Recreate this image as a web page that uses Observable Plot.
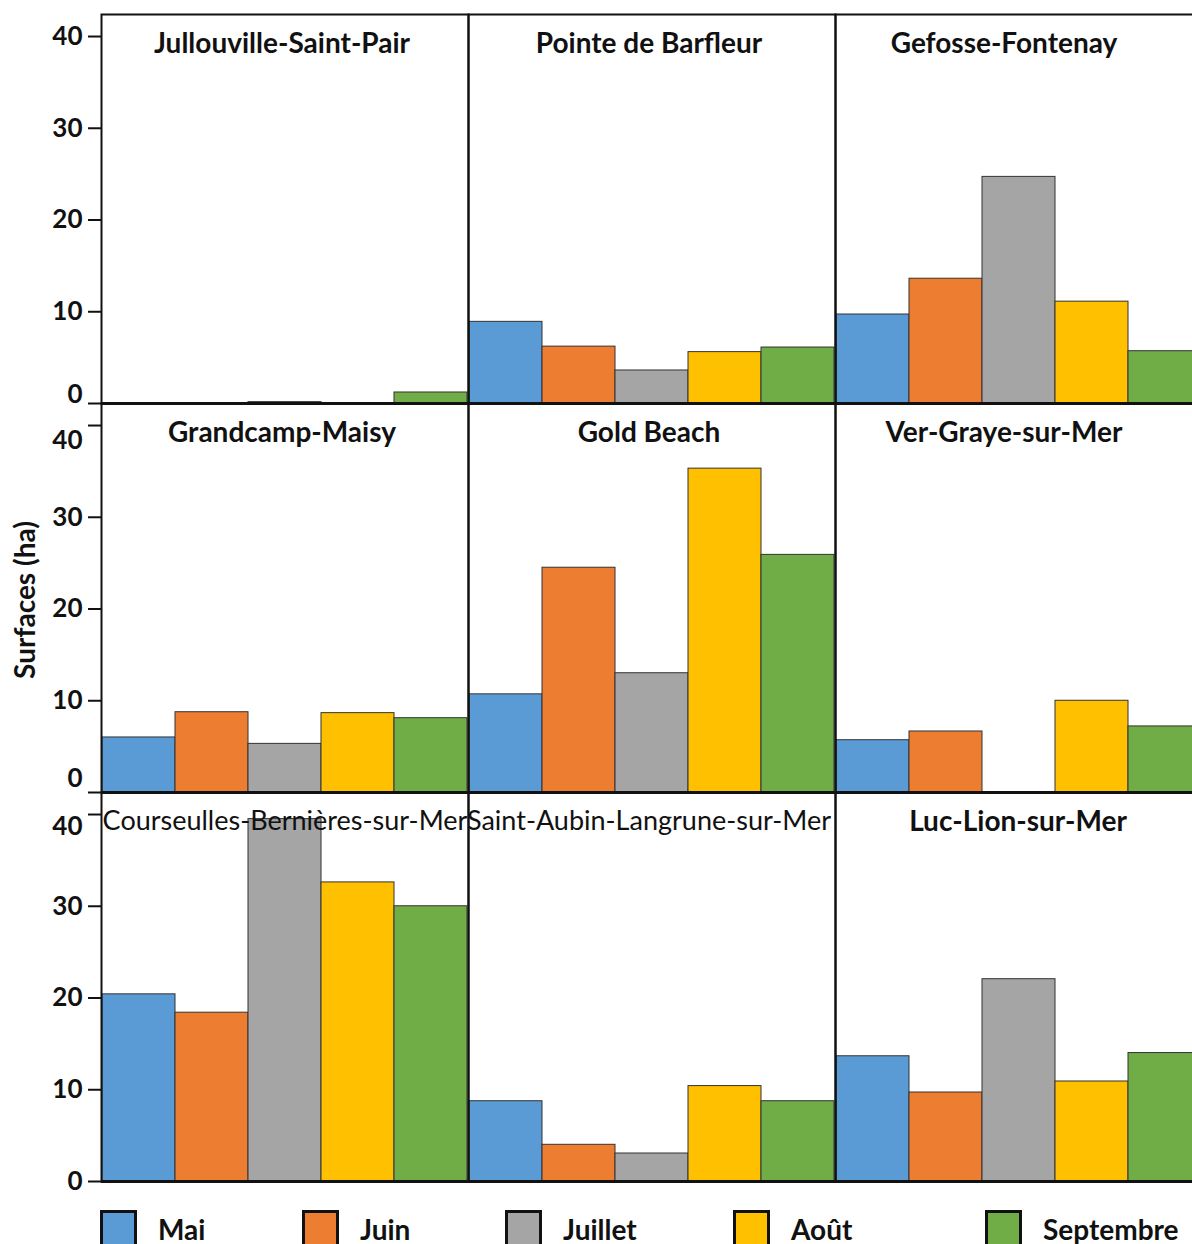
<!DOCTYPE html>
<html><head><meta charset="utf-8">
<script src="https://cdn.jsdelivr.net/npm/d3@7"></script>
<script src="https://cdn.jsdelivr.net/npm/@observablehq/plot@0.6"></script>
<style>
body{margin:0;background:#fff;font-family:Lato,"Open Sans",sans-serif;color:#111;}
#wrap{position:relative;width:1192px;height:1244px;overflow:hidden;}
#chart{position:absolute;left:0;top:0;width:1202px;}
#chart svg{max-width:none;}
#ylab{position:absolute;left:24px;top:600px;transform:translate(-50%,-50%) rotate(-90deg);font-size:28px;font-weight:bold;white-space:nowrap;}
#legend{position:absolute;top:1210px;left:0;width:1192px;height:34px;}
.item{position:absolute;top:0;display:flex;align-items:flex-start;}
.sw{width:37px;height:44px;border:3px solid #111;box-sizing:border-box;}
.lab{font-size:28px;font-weight:bold;margin-left:21px;line-height:1;margin-top:5px;}
</style></head><body>
<div id="wrap"><div id="chart"></div><div id="ylab">Surfaces (ha)</div><div id="legend"></div></div>
<script>
const sites = ["Jullouville-Saint-Pair","Pointe de Barfleur","Gefosse-Fontenay",
  "Grandcamp-Maisy","Gold Beach","Ver-Graye-sur-Mer",
  "Courseulles-Bernières-sur-Mer","Saint-Aubin-Langrune-sur-Mer","Luc-Lion-sur-Mer"];
const months = ["Mai","Juin","Juillet","Août","Septembre"];
const colors = ["#5B9BD5","#ED7D31","#A5A5A5","#FFC000","#70AD47"];
const mai       = [0,    8.9, 9.7,  6.0,  10.7, 5.7,  20.4, 8.75, 13.65];
const juin      = [0,    6.2, 13.6, 8.75, 24.5, 6.65, 18.4, 4.0,  9.7];
const juillet   = [0.15, 3.6, 24.7, 5.3,  13.0, 0,    39.5, 3.05, 22.05];
const aout      = [0,    5.6, 11.1, 8.65, 35.3, 10.0, 32.6, 10.4, 10.9];
const septembre = [1.2,  6.1, 5.7,  8.1,  25.9, 7.2,  30.0, 8.75, 14.0];
const yTicks = [0, 10, 20, 30, 40];

const series = [mai, juin, juillet, aout, septembre];
const data = [];
sites.forEach((s, i) => series.forEach((arr, j) => data.push({site: s, col: i % 3, row: Math.floor(i / 3), month: months[j], value: arr[i]})));

// title styling: long names in regular weight; small horizontal nudges as in the original layout
const panels = sites.map((s, i) => {
  const col = i % 3, row = Math.floor(i / 3);
  let nudge = -3;
  if (col === 2 && row < 2) nudge = -15;
  if (i === 6) nudge = 0;
  if (i === 8) nudge = -1;
  return {site: s, col, row, long: s.length > 24, nudge};
});
const titleMark = (long, nudge) => Plot.text(panels.filter(d => d.long === long && d.nudge === nudge), {
  fx: "col", fy: "row", text: "site", frameAnchor: "top",
  dx: nudge, dy: long ? 18 : 19, fontSize: long ? 27 : 28, fontWeight: long ? "normal" : "bold", fill: "#111"
});
const titleGroups = [...new Set(panels.map(d => d.long + "|" + d.nudge))].map(k => {
  const [l, n] = k.split("|");
  return titleMark(l === "true", +n);
});

// tick labels, one set per row (left column only); label offsets avoid overlaps between stacked panels
const tickLabels = [];
[0, 1, 2].forEach(r => yTicks.forEach(v => {
  let shift = 0;
  if (v === 0 && r === 0) shift = -9;
  if (v === 0 && r === 1) shift = -14;
  if (v === 40 && r === 1) shift = 15;
  if (v === 40 && r === 2) shift = 12;
  tickLabels.push({row: r, col: 0, value: v, shift});
}));
const labelMark = (s) => Plot.text(tickLabels.filter(d => d.shift === s), {
  fx: "col", fy: "row", y: "value", text: d => String(d.value), frameAnchor: "left", textAnchor: "end",
  dx: -19, dy: s, fontSize: 26, fontWeight: "bold", fill: "#111"
});
const shifts = [...new Set(tickLabels.map(d => d.shift))];

const chart = Plot.plot({
  width: 1202, height: 1186,
  marginLeft: 101, marginRight: 0, marginTop: 14, marginBottom: 5,
  fx: {padding: 0, axis: null, domain: [0, 1, 2]},
  fy: {padding: 0, axis: null, domain: [0, 1, 2]},
  x: {type: "band", domain: months, padding: 0, axis: null},
  y: {domain: [0, 42.4]},
  color: {domain: months, range: colors},
  style: {fontFamily: "Lato, 'Open Sans', sans-serif", color: "#111", background: "#fff", overflow: "visible"},
  marks: [
    Plot.barY(data, {fx: "col", fy: "row", x: "month", y: "value", fill: "month", stroke: "#333", strokeWidth: 1}),
    Plot.frame({stroke: "#111", strokeWidth: 2}),
    Plot.ruleY([0], {stroke: "#111", strokeWidth: 3}),
    Plot.axisY(yTicks, {anchor: "left", tickSize: 13, strokeWidth: 2, stroke: "#111", text: null, label: null}),
    ...shifts.map(labelMark),
    ...titleGroups
  ]
});
document.getElementById("chart").appendChild(chart);

const legendLeft = [100, 302, 505, 733, 985];
const legend = document.getElementById("legend");
months.forEach((m, i) => {
  const it = document.createElement("div");
  it.className = "item";
  it.style.left = legendLeft[i] + "px";
  it.innerHTML = `<div class="sw" style="background:${colors[i]}"></div><div class="lab">${m}</div>`;
  legend.appendChild(it);
});
</script>
</body></html>
